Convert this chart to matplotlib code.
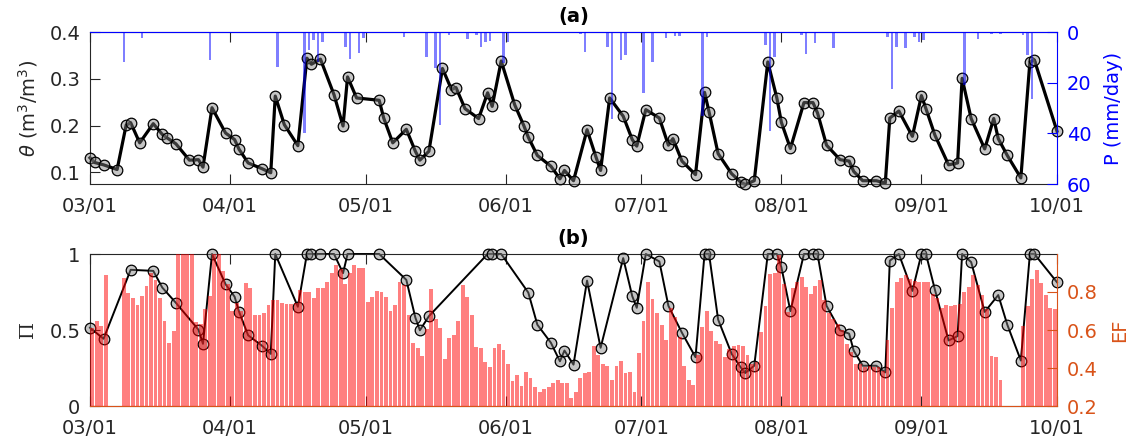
import numpy as np
import pandas as pd
import matplotlib
matplotlib.use("Agg")
import matplotlib.pyplot as plt

# Season window
start = pd.Timestamp("2017-03-01")
end = pd.Timestamp("2017-10-01")

# Soil moisture samples: day offset from 1 March, volumetric water content (m3/m3)
theta_day = [0, 1, 3, 6, 8, 9, 11, 14, 16, 17, 19, 22, 24, 25, 27, 30, 32, 33, 35, 38,
             40, 41, 43, 46, 48, 49, 51, 54, 56, 57, 59, 64, 65, 67, 70, 72, 73, 75, 78, 80,
             81, 83, 86, 88, 89, 91, 94, 96, 97, 99, 102, 104, 105, 107, 110, 112, 113, 115, 118, 120,
             121, 123, 126, 128, 129, 131, 134, 136, 137, 139, 142, 144, 145, 147, 150, 152, 153, 155, 158, 160,
             161, 163, 166, 168, 169, 171, 174, 176, 177, 179, 182, 184, 185, 187, 190, 192, 193, 195, 198, 200,
             201, 203, 206, 208, 209, 214]
theta = [0.131, 0.121, 0.116, 0.106, 0.201, 0.206, 0.163, 0.204, 0.181, 0.174, 0.161, 0.126, 0.127, 0.111, 0.238, 0.184, 0.170, 0.149, 0.120, 0.108,
         0.099, 0.263, 0.202, 0.157, 0.344, 0.331, 0.342, 0.266, 0.199, 0.304, 0.259, 0.254, 0.216, 0.163, 0.192, 0.145, 0.126, 0.145, 0.322, 0.277,
         0.281, 0.236, 0.215, 0.270, 0.241, 0.338, 0.244, 0.200, 0.175, 0.136, 0.113, 0.086, 0.104, 0.082, 0.191, 0.132, 0.104, 0.259, 0.220, 0.170,
         0.156, 0.234, 0.216, 0.158, 0.172, 0.124, 0.095, 0.271, 0.229, 0.140, 0.097, 0.079, 0.074, 0.082, 0.336, 0.259, 0.207, 0.151, 0.249, 0.249,
         0.227, 0.158, 0.127, 0.124, 0.102, 0.082, 0.082, 0.077, 0.216, 0.231, 0.177, 0.264, 0.236, 0.179, 0.116, 0.120, 0.301, 0.215, 0.150, 0.215,
         0.172, 0.136, 0.088, 0.336, 0.340, 0.188]

# Daily precipitation (mm/day) on rainy days
rain_day = [7, 11, 26, 41, 47, 48, 49, 50, 51, 56, 57, 59, 60, 68, 69, 73, 74, 76, 77, 79,
            83, 85, 86, 87, 88, 90, 91, 92, 93, 108, 109, 114, 115, 117, 118, 122, 124, 127, 129, 130,
            135, 136, 147, 149, 150, 151, 157, 158, 159, 160, 161, 162, 164, 176, 177, 178, 180, 182, 183, 184,
            191, 193, 196, 199, 201, 206, 207, 208]
rain = [12.0, 2.5, 11.0, 13.8, 40.0, 7.0, 3.0, 12.0, 3.8, 5.8, 10.8, 8.4, 2.5, 0.5, 1.8, 0.5, 9.8, 14.4, 36.9, 1.2,
        2.9, 1.1, 5.8, 3.8, 3.6, 0.5, 12.2, 3.8, 0.5, 0.6, 7.8, 5.8, 34.3, 11.1, 9.1, 24.1, 11.8, 2.5, 1.5, 1.5,
        33.0, 2.0, 0.5, 5.2, 38.9, 9.8, 1.0, 8.7, 0.5, 4.5, 0.5, 0.5, 6.5, 2.0, 22.4, 5.8, 6.5, 1.8, 4.0, 3.3,
        0.5, 21.0, 2.7, 0.8, 0.8, 1.2, 9.0, 26.3]

# Index Pi: day offset from 1 March and value
pi_day = [0, 3, 9, 14, 16, 19, 24, 25, 27, 30, 32, 33, 35, 38, 40, 41, 46, 48, 49, 51,
          54, 56, 57, 64, 70, 72, 73, 75, 88, 89, 91, 97, 99, 102, 104, 105, 107, 110, 113, 118,
          120, 121, 123, 126, 128, 131, 134, 136, 137, 139, 142, 144, 145, 147, 150, 152, 153, 155, 158, 160,
          161, 163, 166, 168, 169, 171, 174, 176, 177, 179, 182, 184, 185, 187, 190, 192, 193, 195, 198, 201,
          203, 206, 208, 209, 214]
pi_val = [0.515, 0.442, 0.896, 0.889, 0.779, 0.679, 0.502, 0.409, 1.0, 0.801, 0.719, 0.619, 0.465, 0.398, 0.343, 1.0, 0.653, 1.0, 1.0, 1.0,
          1.0, 0.874, 1.0, 1.0, 0.830, 0.582, 0.498, 0.591, 1.0, 1.0, 1.0, 0.746, 0.535, 0.416, 0.294, 0.365, 0.272, 0.825, 0.383, 0.973,
          0.723, 0.646, 1.0, 0.951, 0.659, 0.482, 0.321, 1.0, 1.0, 0.569, 0.343, 0.254, 0.217, 0.265, 1.0, 1.0, 0.914, 0.624, 1.0, 1.0,
          1.0, 0.659, 0.498, 0.476, 0.365, 0.265, 0.265, 0.221, 0.956, 1.0, 0.757, 1.0, 1.0, 0.763, 0.431, 0.460, 1.0, 0.947, 0.619, 0.730,
          0.535, 0.299, 1.0, 1.0, 0.814]

# Daily evaporative fraction, one value per day from 1 March (nan = no data)
nan = np.nan
ef = [0.61, 0.65, 0.62, 0.89, nan, nan, nan, 0.873, 0.797, 0.77,
      0.73, 0.78, 0.83, 0.90, 0.864, 0.77, 0.646, 0.53, 0.593, 1.0,
      1.0, 1.0, 1.0, 0.64, 0.63, 0.71, 0.78, 1.0, 1.0, 0.91,
      0.84, 0.70, 0.74, 0.70, 0.846, 0.82, 0.68, 0.68, 0.69, 0.73,
      0.76, 0.76, 0.74, 0.735, 0.735, 0.74, 0.81, 0.80, 0.80, 0.77,
      0.82, 0.82, 0.855, 0.90, 0.94, 0.92, 0.84, 0.90, 0.94, 0.925,
      0.925, 0.75, 0.775, 0.805, 0.80, 0.775, 0.70, 0.73, 0.855, 0.837,
      0.678, 0.531, 0.504, 0.462, 0.607, 0.816, 0.660, 0.612, 0.448, 0.558,
      0.572, 0.646, 0.837, 0.772, 0.681, 0.510, 0.506, 0.430, 0.404, 0.504,
      0.524, 0.497, 0.421, 0.333, 0.363, 0.303, 0.381, 0.350, 0.301, 0.274,
      0.288, 0.301, 0.320, 0.336, 0.319, 0.319, 0.241, 0.274, 0.350, 0.373,
      0.377, 0.515, 0.469, 0.421, 0.412, 0.338, 0.412, 0.439, 0.373, 0.377,
      0.274, 0.478, 0.646, 0.851, 0.763, 0.692, 0.625, 0.550, 0.717, 0.669,
      0.563, 0.412, 0.336, 0.310, 0.469, 0.616, 0.699, 0.593, 0.540, 0.527,
      0.457, 0.501, 0.515, 0.519, 0.515, 0.469, 0.421, 0.430, 0.589, 0.727,
      0.894, 0.899, 0.996, 0.841, 0.696, 0.823, 0.855, 0.881, 0.828, 0.788,
      0.832, 0.864, 0.757, 0.687, 0.660, 0.634, 0.598, 0.527, 0.483, 0.421,
      0.421, 0.404, 0.412, 0.404, 0.404, 0.386, 0.545, 0.717, 0.851, 0.876,
      0.890, 0.869, 0.858, 0.855, 0.855, 0.851, 0.788, 0.767, 0.717, 0.731,
      0.727, 0.731, 0.735, 0.802, 0.828, 0.887, 0.837, 0.784, 0.713, 0.465,
      0.457, 0.338, nan, nan, nan, nan, 0.621, 0.727, 0.867, 0.917,
      0.846, 0.784, 0.717, 0.713]

tick_labels = ["03/01", "04/01", "05/01", "06/01", "07/01", "08/01", "09/01", "10/01"]

AX_GRAY = (0.15, 0.15, 0.15)
BLUE = (0.0, 0.0, 1.0)
ORANGE = (0.85, 0.325, 0.098)
FS = 14


def to_dates(days, shift_hours=0):
    return start + pd.to_timedelta(np.asarray(days, dtype=float), unit="D") + pd.Timedelta(hours=shift_hours)


plt.rcParams["font.family"] = ["DejaVu Sans"]
plt.rcParams["mathtext.fontset"] = "dejavusans"

W, H = 1133, 442
fig = plt.figure(figsize=(W / 100, H / 100), dpi=100)
ax_a = fig.add_axes([90 / W, 1 - 184 / H, 967 / W, 152 / H])
ax_b = fig.add_axes([90 / W, 1 - 406 / H, 967 / W, 152 / H])

month_ticks = pd.date_range(start, end, freq="MS")


def style_x(ax):
    ax.set_xlim(start, end)
    ax.set_xticks(month_ticks)
    ax.set_xticklabels(tick_labels)
    ax.tick_params(axis="x", direction="in", length=7, width=0.8, top=True,
                   labelsize=FS, colors=AX_GRAY, pad=9.5)
    for s in ax.spines.values():
        s.set_color(AX_GRAY)
        s.set_linewidth(0.8)


# ---- (a) soil moisture and rainfall ----
td = to_dates(theta_day)
ax_a.plot(td, theta, "-", color="k", lw=2.3, zorder=2, clip_on=False)
ax_a.scatter(td, theta, s=58, facecolor=(0.5, 0.5, 0.5, 0.45), edgecolor="k",
             linewidth=0.9, zorder=3, clip_on=False)
ax_a.set_ylim(0.075, 0.4)
ax_a.set_yticks([0.1, 0.2, 0.3, 0.4])
ax_a.set_yticklabels(["0.1", "0.2", "0.3", "0.4"])
ax_a.tick_params(axis="y", direction="in", length=7, width=0.8, labelsize=FS,
                 colors=AX_GRAY, pad=7)
style_x(ax_a)
ax_a.set_ylabel(r"$\theta$ (m$^3$/m$^3$)", fontsize=FS, color=AX_GRAY, labelpad=7)
ax_a.set_title("(a)", fontsize=FS, fontweight="bold", color="k", pad=7)

pa = ax_a.twinx()
pa.bar(to_dates(rain_day, 12), rain, width=0.55, color=BLUE, alpha=0.5, linewidth=0)
pa.set_ylim(60, 0)
pa.set_yticks([0, 20, 40, 60])
pa.set_yticklabels(["0", "20", "40", "60"])
pa.tick_params(axis="y", direction="in", length=7, width=0.8, labelsize=FS,
               colors=BLUE, pad=7)
pa.set_ylabel("P (mm/day)", fontsize=FS, color=BLUE, labelpad=9)
for name, s in pa.spines.items():
    s.set_linewidth(0.8)
    s.set_color(BLUE if name in ("right", "top") else AX_GRAY)
pa.spines["left"].set_visible(False)
pa.spines["bottom"].set_visible(False)
ax_a.spines["right"].set_visible(False)

# ---- (b) Pi index and evaporative fraction ----
pd_dates = to_dates(pi_day)
ax_b.plot(pd_dates, pi_val, "-", color="k", lw=1.4, zorder=2, clip_on=False)
ax_b.scatter(pd_dates, pi_val, s=58, facecolor=(0.5, 0.5, 0.5, 0.45), edgecolor="k",
             linewidth=0.9, zorder=3, clip_on=False)
ax_b.set_ylim(0, 1)
ax_b.set_yticks([0, 0.5, 1])
ax_b.set_yticklabels(["0", "0.5", "1"])
ax_b.tick_params(axis="y", direction="in", length=7, width=0.8, labelsize=FS,
                 colors=AX_GRAY, pad=7)
style_x(ax_b)
ax_b.set_ylabel("Π", fontsize=FS, color=AX_GRAY, family="DejaVu Serif", labelpad=9)
ax_b.set_title("(b)", fontsize=FS, fontweight="bold", color="k", pad=7)

ef_arr = np.asarray(ef, dtype=float)
ef_days = np.arange(len(ef_arr))
ok = ~np.isnan(ef_arr)
eb = ax_b.twinx()
eb.bar(to_dates(ef_days[ok], 12), ef_arr[ok], width=0.85, color=(1, 0, 0), alpha=0.5, linewidth=0)
eb.set_ylim(0.2, 1.0)
eb.set_yticks([0.2, 0.4, 0.6, 0.8])
eb.set_yticklabels(["0.2", "0.4", "0.6", "0.8"])
eb.tick_params(axis="y", direction="in", length=7, width=0.8, labelsize=FS,
               colors=ORANGE, pad=7)
eb.set_ylabel("EF", fontsize=FS, color=ORANGE, labelpad=9)
for name, s in eb.spines.items():
    s.set_linewidth(0.8)
    s.set_color(ORANGE if name in ("right", "bottom") else AX_GRAY)
eb.spines["left"].set_visible(False)
eb.spines["top"].set_visible(False)
ax_b.spines["right"].set_visible(False)

fig.savefig("out.png", dpi=100)
